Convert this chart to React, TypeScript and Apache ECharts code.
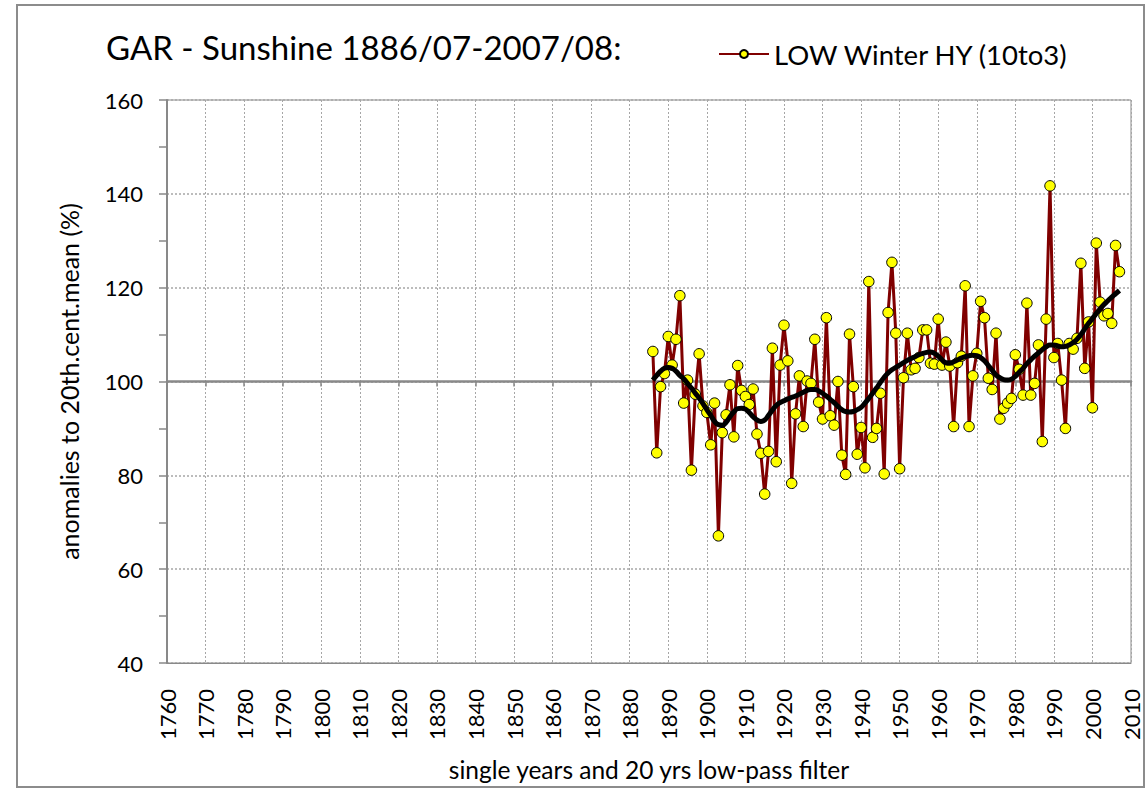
import React, { useEffect, useRef } from "react";
import * as echarts from "echarts";

const years: number[] = [];
for (let y = 1886; y <= 2007; y++) years.push(y);

const sunshine: number[] = [
  106.4, 84.8, 98.9, 101.7, 109.6, 103.5, 109.0, 118.3, 95.4, 100.3,
  81.1, 97.3, 105.9, 94.8, 93.4, 86.5, 95.4, 67.1, 89.1, 92.9,
  99.3, 88.2, 103.4, 98.1, 96.8, 95.1, 98.4, 88.8, 84.7, 76.0,
  85.1, 107.1, 82.9, 103.5, 112.0, 104.4, 78.3, 93.1, 101.2, 90.4,
  100.1, 99.6, 109.0, 95.6, 92.0, 113.6, 92.7, 90.7, 100.0, 84.3,
  80.2, 110.1, 98.9, 84.5, 90.2, 81.6, 121.3, 88.1, 90.0, 97.5,
  80.3, 114.7, 125.4, 110.3, 81.4, 100.8, 110.3, 102.5, 102.8, 105.1,
  111.0, 111.0, 103.9, 103.7, 113.3, 103.5, 108.4, 103.3, 90.4, 104.0,
  105.4, 120.4, 90.4, 101.2, 106.0, 117.1, 113.6, 100.7, 98.3, 110.3,
  92.0, 94.3, 95.4, 96.4, 105.7, 102.6, 97.1, 116.7, 97.1, 99.6,
  107.8, 87.2, 113.3, 141.7, 105.1, 108.1, 100.3, 90.0, 108.1, 106.9,
  109.2, 125.2, 102.8, 112.7, 94.4, 129.5, 116.9, 114.0, 114.5, 112.4,
  129.0, 123.4,
];

const lowPass: number[] = [
  100.3, 101.3, 102.2, 102.8, 103.0, 102.8, 102.2, 101.3, 100.6, 99.6,
  98.6, 97.5, 96.5, 95.3, 94.0, 92.8, 91.5, 90.8, 90.7, 91.3,
  92.5, 93.5, 94.2, 94.3, 94.1, 93.4, 92.5, 91.8, 91.5, 91.8,
  92.8, 93.9, 94.9, 95.5, 95.9, 96.3, 96.6, 96.9, 97.3, 97.7,
  98.1, 98.3, 98.3, 98.0, 97.5, 96.9, 96.2, 95.5, 94.7, 94.0,
  93.6, 93.5, 93.6, 94.0, 94.5, 95.4, 96.4, 97.5, 98.6, 99.8,
  100.9, 101.8, 102.5, 103.0, 103.5, 104.0, 104.5, 104.9, 105.3, 105.7,
  106.0, 106.2, 106.3, 106.0, 105.4, 104.6, 104.0, 103.9, 104.2, 104.6,
  105.0, 105.3, 105.5, 105.6, 105.5, 105.1, 104.4, 103.4, 102.4, 101.4,
  100.8, 100.4, 100.3, 100.5, 101.1, 102.0, 102.8, 103.8, 104.6, 105.4,
  106.1, 106.8, 107.4, 107.8, 107.8, 107.6, 107.4, 107.5, 107.8, 108.3,
  109.0, 110.0, 111.2, 112.4, 113.4, 114.5, 115.5, 116.4, 117.2, 118.0,
  118.7, 119.4,
];

const seriesName = "LOW Winter HY (10to3)";
const titleText = "GAR - Sunshine 1886/07-2007/08:";
const yName = "anomalies to 20th.cent.mean (%)";
const xName = "single years and 20 yrs low-pass filter";

const FONT = "Lato, 'Open Sans', sans-serif";

export default function App() {
  const ref = useRef<HTMLDivElement>(null);
  useEffect(() => {
    if (!ref.current) return;
    const chart = echarts.init(ref.current, null, { renderer: "svg" });
    const gray = "#898989";
    chart.setOption({
      animation: false,
      backgroundColor: "#ffffff",
      textStyle: { fontFamily: FONT },
      title: {
        text: titleText,
        left: 106,
        top: 30,
        padding: 0,
        textStyle: { fontFamily: FONT, fontSize: 33, fontWeight: "normal", color: "#000" },
      },
      legend: {
        data: [seriesName],
        left: 718,
        top: 40,
        padding: 0,
        itemWidth: 50,
        itemHeight: 10,
        itemGap: 5,
        textStyle: { fontFamily: FONT, fontSize: 27.5, color: "#000", padding: [0, 0, 0, 0] },
      },
      graphic: [
        {
          type: "rect",
          shape: { x: 17, y: 5, width: 1127, height: 782 },
          style: { fill: "none", stroke: "#8c8c8c", lineWidth: 2 },
          silent: true,
        },
      ],
      grid: {
        left: 167,
        top: 100,
        width: 964,
        height: 563,
        show: true,
        borderColor: gray,
        borderWidth: 1,
        containLabel: false,
      },
      xAxis: [
        {
          type: "value",
          min: 1760,
          max: 2010,
          interval: 10,
          name: xName,
          nameLocation: "middle",
          nameGap: 94,
          nameTextStyle: { fontFamily: FONT, fontSize: 24.5, color: "#000" },
          axisLine: { show: true, lineStyle: { color: gray, width: 1 } },
          axisTick: { show: false },
          axisLabel: {
            rotate: 90,
            margin: 26,
            fontFamily: FONT,
            fontSize: 22,
            color: "#000",
            formatter: (v: number) => String(v),
          },
          splitLine: { show: true, lineStyle: { color: "#a6a6a6", type: [2, 2], width: 1 } },
        },
        {
          type: "value",
          min: 1760,
          max: 2010,
          interval: 10,
          position: "bottom",
          offset: -281.5,
          axisLine: { show: true, lineStyle: { color: gray, width: 2.5 } },
          axisTick: { show: true, inside: false, length: 5, lineStyle: { color: gray, width: 1.5 } },
          axisLabel: { show: false },
          splitLine: { show: false },
        },
      ],
      yAxis: {
        type: "value",
        min: 40,
        max: 160,
        interval: 20,
        name: yName,
        nameLocation: "middle",
        nameGap: 86,
        nameTextStyle: { fontFamily: FONT, fontSize: 25, color: "#000" },
        axisLine: { show: true, lineStyle: { color: gray, width: 2 } },
        axisTick: { show: true, length: 8, lineStyle: { color: gray, width: 1.5 } },
        minorTick: { show: true, splitNumber: 2, length: 8, lineStyle: { color: gray, width: 1.5 } },
        axisLabel: { margin: 24, fontFamily: FONT, fontSize: 22, color: "#000" },
        splitLine: { show: true, lineStyle: { color: "#a6a6a6", type: [2, 2], width: 1.5 } },
      },
      series: [
        {
          name: seriesName,
          type: "line",
          xAxisIndex: 0,
          data: years.map((y, i) => [y, sunshine[i]]),
          symbol: "circle",
          symbolSize: 10.5,
          showSymbol: true,
          lineStyle: { color: "#800000", width: 3 },
          itemStyle: { color: "#ffff00", borderColor: "#000", borderWidth: 1 },
          z: 3,
        },
        {
          name: "low-pass",
          type: "line",
          xAxisIndex: 0,
          data: years.map((y, i) => [y, lowPass[i]]),
          smooth: true,
          symbol: "none",
          lineStyle: { color: "#000", width: 5 },
          z: 4,
        },
      ],
    });
    return () => chart.dispose();
  }, []);
  return (
    <div
      ref={ref}
      style={{ position: "fixed", left: 0, top: 0, width: 1147, height: 794 }}
    />
  );
}
